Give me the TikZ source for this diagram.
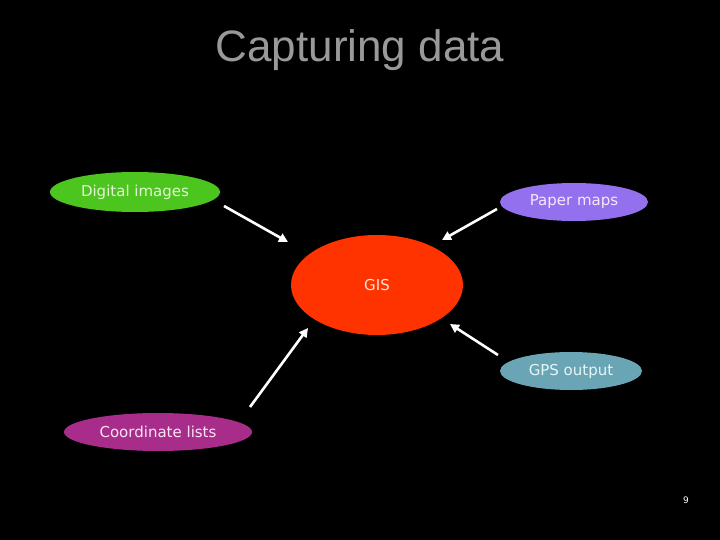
\documentclass[tikz,border=0pt]{standalone}
\usepackage{fontspec}
\setmainfont{DejaVu Sans}
\newfontfamily\titlefont{Liberation Sans}
\usetikzlibrary{shapes.geometric,arrows.meta}
\definecolor{dgreen}{RGB}{76,197,30}
\definecolor{dpurple}{RGB}{147,112,238}
\definecolor{dred}{RGB}{255,51,0}
\definecolor{dteal}{RGB}{106,165,181}
\definecolor{dmagenta}{RGB}{168,45,138}
\definecolor{titlegray}{RGB}{153,153,153}
\tikzset{
  blob/.style={ellipse, inner sep=0pt, font=\fontsize{15}{18}\selectfont},
  arr/.style={draw=white, line width=2.6pt, -{Triangle[length=9pt,width=9pt]}},
}
\begin{document}
\begin{tikzpicture}[x=1pt,y=-1pt]
\fill[black] (0,0) rectangle (720,540);
\useasboundingbox (0,0) rectangle (720,540);
\node[font=\titlefont\fontsize{44}{50}\selectfont, text=titlegray] (title) at (360,50) {Capturing data};
\node[blob, fill=dgreen, text={rgb,255:red,225;green,245;blue,210}, minimum width=170pt, minimum height=40pt] (dig) at (135,192) {\raisebox{-1.5pt}{Digital images}};
\node[blob, fill=dpurple, text={rgb,255:red,250;green,230;blue,250}, minimum width=148pt, minimum height=38pt] (pap) at (574,202) {\raisebox{-1.5pt}{Paper maps}};
\node[blob, fill=dred, text={rgb,255:red,255;green,230;blue,215}, minimum width=172pt, minimum height=100pt] (gis) at (377,285) {\raisebox{-1.5pt}{GIS}};
\node[blob, fill=dteal, text={rgb,255:red,230;green,245;blue,245}, minimum width=142pt, minimum height=38pt] (gps) at (571,371) {\raisebox{-1.5pt}{GPS output}};
\node[blob, fill=dmagenta, text={rgb,255:red,250;green,228;blue,245}, minimum width=188pt, minimum height=38pt] (coo) at (158,432) {\raisebox{-1.5pt}{Coordinate lists}};
\node[text=white, font=\fontsize{9}{10}\selectfont] (pg) at (686,500) {9};
\coordinate (a1s) at (224,206); \coordinate (a1e) at (288,242);
\coordinate (a2s) at (497,209); \coordinate (a2e) at (442,240);
\coordinate (a3s) at (250,407); \coordinate (a3e) at (308,328);
\coordinate (a4s) at (498,355); \coordinate (a4e) at (450,324);
\draw[arr] (a1s) -- (a1e);
\draw[arr] (a2s) -- (a2e);
\draw[arr] (a3s) -- (a3e);
\draw[arr] (a4s) -- (a4e);
\end{tikzpicture}
\end{document}
